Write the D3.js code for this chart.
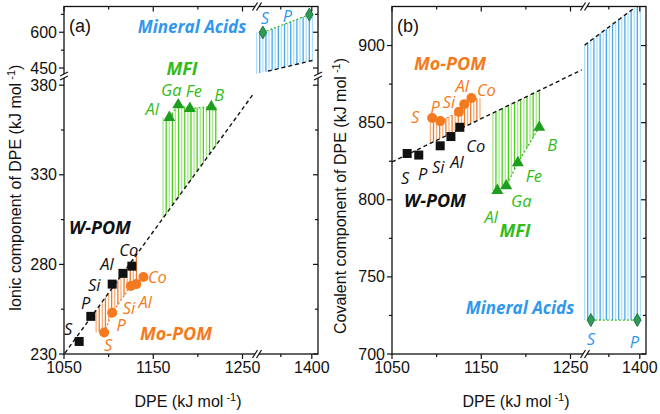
<!DOCTYPE html>
<html><head><meta charset="utf-8">
<script src="https://cdn.jsdelivr.net/npm/d3@7"></script>
<style>body{margin:0;background:#fff}svg{display:block}</style>
</head><body><svg id="c" width="660" height="414"></svg>
<script>
// ---------------- DATA ----------------
const elementsW = ["S","P","Si","Al","Co"];
const dpeW = [1067,1080,1104,1116,1126];
const ionicW = [237,251,269,275,279];
const covalentW = [830,829,835,841,847];

const elementsMo = ["S","P","Si","Al","Co"];
const dpeMo = [1095,1104,1125,1131,1139];
const ionicMo = [242,253,268,269,273];
const covalentMo = [853,851,857,862,866];

const elementsMFI = ["Al","Ga","Fe","B"];
const dpeMFI = [1168,1178,1191,1215];
const ionicMFI = [362,369,367,368];
const covalentMFI = [806,809,824,847];

const elementsMA = ["S","P"];
const dpeMA = [1321,1396];
const ionicMA = [599,674];
const covalentMA = [722,722];

// fitted lines (DPE, value) endpoints per axis segment
const ionicFitLower = [[1051,230.5],[1262,375]];
const ionicFitUpper = [[1329,436.8],[1405,483.9]];
const covalentFitLower = [[1050,824.5],[1262.5,884.2]];
const covalentFitUpper = [[1311,900.3],[1390,924]];

// DPE ranges of the shaded (hatched) regions
const hatchIonic = {Mo:[1086,1134], MFI:[1161,1222], MA:[1311,1401]};
const hatchCovalent = {Mo:[1093,1152], MFI:[1163,1217], MA:[1311,1401]};

// axis ticks
const xTickLabels = [1050,1150,1250,1400];
const xMinorTicks = [1100,1200,1350];
const ionicTickLabels = [230,280,330,380,450,600];
const ionicMinorTicks = [255,305,355,525,675];
const covalentTickLabels = [700,750,800,850,900];
const covalentMinorTicks = [725,775,825,875];

// ---------------- DRAW ----------------
const svg = d3.select("#c");
const FONT = "'Liberation Sans', Arial, sans-serif";
const LFONT = "'Open Sans', 'Noto Sans', sans-serif";
const C = {
  W:"#111111", Mo:"#f47a20", MFI:"#1e9e1e", MFIlab:"#33bb1a", MA:"#2e9a56", MAlab:"#2f97ee",
  hMo:["#f8b07a","#f07a2a"], hMFI:["#a8ea8a","#4fcc22"], hMA:["#ade0f8","#46a6ee"]
};

function interp(xs, ys, x){
  if (x <= xs[0]) return ys[0];
  if (x >= xs[xs.length-1]) return ys[ys.length-1];
  for (let i=0;i<xs.length-1;i++){
    if (x>=xs[i] && x<=xs[i+1]) return ys[i] + (ys[i+1]-ys[i])*(x-xs[i])/(xs[i+1]-xs[i]);
  }
}
function lin(seg, x){
  const [[x0,y0],[x1,y1]] = seg;
  return y0 + (y1-y0)*(x-x0)/(x1-x0);
}

function panel(o){
  const L=o.left, R=o.left+254, T=6.5, B=354;
  const x = d3.scaleLinear().domain([1050,1264,1310,1410]).range([L, L+191, L+192, R]);
  const y = d3.scaleLinear().domain(o.yDomain).range(o.yRange);
  const g = svg.append("g");
  const clipId = "clip"+o.id;
  g.append("clipPath").attr("id",clipId).append("rect").attr("x",L).attr("y",T).attr("width",R-L).attr("height",B-T);
  const pg = g.append("g").attr("clip-path",`url(#${clipId})`);

  const fitAt = d => d < 1290 ? lin(o.fitLower,d) : lin(o.fitUpper,d);

  // hatches
  const series = {
    Mo:{dpe:dpeMo, v:o.vMo}, MFI:{dpe:dpeMFI, v:o.vMFI}, MA:{dpe:dpeMA, v:o.vMA}
  };
  ["Mo","MFI","MA"].forEach(k=>{
    const s = series[k], rng = o.hatch[k], cols = C["h"+k];
    const p0 = x(rng[0]), p1 = x(rng[1]);
    const lines = d3.range(p0, p1+0.01, 3.1).map((px,i)=>{
      const d = x.invert(px);
      return {px, i, y1: y(interp(s.dpe, s.v, d)), y2: y(fitAt(d))};
    });
    pg.append("g").selectAll("line").data(lines).join("line")
      .attr("x1",d=>d.px).attr("x2",d=>d.px).attr("y1",d=>d.y1).attr("y2",d=>d.y2)
      .attr("stroke",d=>cols[d.i%2]).attr("stroke-width",1.3);
  });

  // fit dashed lines
  [o.fitLower, o.fitUpper].forEach(seg=>{
    pg.append("line").attr("x1",x(seg[0][0])).attr("y1",y(seg[0][1]))
      .attr("x2",x(seg[1][0])).attr("y2",y(seg[1][1]))
      .attr("stroke","#111").attr("stroke-width",1.4).attr("stroke-dasharray","4,3");
  });

  // dotted connectors
  const conn = (dpe, v, col)=> pg.append("path")
      .attr("d", d3.line().x(d=>x(d[0])).y(d=>y(d[1]))(dpe.map((d,i)=>[d,v[i]])))
      .attr("fill","none").attr("stroke",col).attr("stroke-width",1.2).attr("stroke-dasharray","2,2");
  conn(dpeMo, o.vMo, C.Mo);
  conn(dpeMFI, o.vMFI, "#33bb1a");
  conn(dpeMA, o.vMA, "#33bb1a");

  // markers
  pg.append("g").selectAll("rect").data(dpeW.map((d,i)=>[d,o.vW[i]])).join("rect")
    .attr("x",d=>x(d[0])-4.5).attr("y",d=>y(d[1])-4.5).attr("width",9).attr("height",9).attr("fill",C.W);
  pg.append("g").selectAll("circle").data(dpeMo.map((d,i)=>[d,o.vMo[i]])).join("circle")
    .attr("cx",d=>x(d[0])).attr("cy",d=>y(d[1])).attr("r",5).attr("fill",C.Mo);
  const tri = d3.symbol().type(d3.symbolTriangle).size(62);
  pg.append("g").selectAll("path").data(dpeMFI.map((d,i)=>[d,o.vMFI[i]])).join("path")
    .attr("transform",d=>`translate(${x(d[0])},${y(d[1])})`).attr("d",tri).attr("fill",C.MFI);
  const dia = d3.symbol().type(d3.symbolDiamond).size(48);
  pg.append("g").selectAll("path").data(dpeMA.map((d,i)=>[d,o.vMA[i]])).join("path")
    .attr("transform",d=>`translate(${x(d[0])},${y(d[1])})`).attr("d",dia)
    .attr("fill",C.MA).attr("stroke","#1d7a3e").attr("stroke-width",1);

  // element labels
  const lab = (dpe, v, names, offs, col)=> g.append("g").selectAll("text").data(names).join("text")
      .attr("x",(d,i)=>x(dpe[i])+offs[i][0]).attr("y",(d,i)=>y(v[i])+offs[i][1])
      .attr("text-anchor","middle").attr("dominant-baseline","central")
      .attr("font-family",LFONT).attr("font-style","italic").attr("font-size",16.5)
      .attr("fill",col).text(d=>d);
  lab(dpeW, o.vW, elementsW, o.offW, C.W);
  lab(dpeMo, o.vMo, elementsMo, o.offMo, C.Mo);
  lab(dpeMFI, o.vMFI, elementsMFI, o.offMFI, C.MFIlab);
  lab(dpeMA, o.vMA, elementsMA, o.offMA, C.MAlab);

  // group titles
  o.titles.forEach(t=>{
    g.append("text").attr("x",t[1]).attr("y",t[2]).attr("text-anchor","middle").attr("dominant-baseline","central")
      .attr("font-family",LFONT).attr("font-style","italic").attr("font-weight","bold").attr("font-size",t[4]||16)
      .attr("fill",t[3]).text(t[0]);
  });
  g.append("text").attr("x",L+16).attr("y",26).attr("text-anchor","middle").attr("dominant-baseline","central")
    .attr("font-family",FONT).attr("font-size",18).attr("fill","#111").text(o.tag);

  // frame
  g.append("rect").attr("x",L).attr("y",T).attr("width",R-L).attr("height",B-T)
    .attr("fill","none").attr("stroke","#111").attr("stroke-width",1.3);

  // x ticks (bottom outward, top inward)
  const ax = g.append("g").attr("stroke","#111").attr("stroke-width",1.2);
  xTickLabels.forEach(v=>{
    ax.append("line").attr("x1",x(v)).attr("x2",x(v)).attr("y1",B).attr("y2",B+5);
    ax.append("line").attr("x1",x(v)).attr("x2",x(v)).attr("y1",T).attr("y2",T+5);
  });
  xMinorTicks.forEach(v=>{
    ax.append("line").attr("x1",x(v)).attr("x2",x(v)).attr("y1",B).attr("y2",B+3);
    ax.append("line").attr("x1",x(v)).attr("x2",x(v)).attr("y1",T).attr("y2",T+3);
  });
  g.append("g").selectAll("text").data(xTickLabels).join("text")
    .attr("x",d=>x(d)).attr("y",373).attr("text-anchor","middle")
    .attr("font-family",FONT).attr("font-size",16).attr("fill","#111").text(d=>d);
  o.yTicks.forEach(v=>{
    ax.append("line").attr("x1",L-5).attr("x2",L).attr("y1",y(v)).attr("y2",y(v));
    ax.append("line").attr("x1",R-5).attr("x2",R).attr("y1",y(v)).attr("y2",y(v));
  });
  o.yMinor.forEach(v=>{
    ax.append("line").attr("x1",L-3).attr("x2",L).attr("y1",y(v)).attr("y2",y(v));
    ax.append("line").attr("x1",R-3).attr("x2",R).attr("y1",y(v)).attr("y2",y(v));
  });
  g.append("g").selectAll("text").data(o.yTicks).join("text")
    .attr("x",L-7).attr("y",d=>y(d)).attr("text-anchor","end").attr("dominant-baseline","central")
    .attr("font-family",FONT).attr("font-size",16).attr("fill","#111").text(d=>d);

  // x breaks
  const xb = L+193;
  [B,T].forEach(yy=>{
    g.append("rect").attr("x",xb-2).attr("y",yy-2).attr("width",4).attr("height",4).attr("fill","#fff");
    [-2,2].forEach(dx=>g.append("line").attr("x1",xb+dx-2.5).attr("y1",yy+4).attr("x2",xb+dx+2.5).attr("y2",yy-4)
      .attr("stroke","#111").attr("stroke-width",1.2));
  });
  if (o.yBreak){
    const yb = o.yBreak;
    [L,R].forEach(xx=>{
      g.append("rect").attr("x",xx-2).attr("y",yb-2).attr("width",4).attr("height",4).attr("fill","#fff");
      [-2,2].forEach(dy=>g.append("line").attr("x1",xx-4).attr("y1",yb+dy+2).attr("x2",xx+4).attr("y2",yb+dy-2)
        .attr("stroke","#111").attr("stroke-width",1.2));
    });
  }

  // axis titles
  const xt = g.append("text").attr("x",(L+R)/2-3).attr("y",407).attr("text-anchor","middle")
    .attr("font-family",FONT).attr("font-size",16).attr("fill","#111");
  xt.append("tspan").text("DPE (kJ mol");
  xt.append("tspan").attr("dy",-6).attr("font-size",11).text(" -1");
  xt.append("tspan").attr("dy",6).text(")");
  const yt = g.append("text").attr("transform",`translate(${o.ytx},${o.yty}) rotate(-90)`).attr("text-anchor","middle")
    .attr("font-family",FONT).attr("font-size",16).attr("fill","#111");
  yt.append("tspan").text(o.ytitle+" (kJ mol");
  yt.append("tspan").attr("dy",-6).attr("font-size",11).text(" -1");
  yt.append("tspan").attr("dy",6).text(")");
}

panel({
  id:"a", left:64, tag:"(a)",
  yDomain:[230,384,425,712], yRange:[354,78,74,5.5], yBreak:76,
  yTicks:ionicTickLabels, yMinor:ionicMinorTicks,
  vW:ionicW, vMo:ionicMo, vMFI:ionicMFI, vMA:ionicMA,
  fitLower:ionicFitLower, fitUpper:ionicFitUpper, hatch:hatchIonic,
  offW:[[-11,-13],[-5,-14],[-18,0],[-16,-10],[-3,-17]],
  offMo:[[4,12],[9,12],[-2,22],[9,17],[14,0]],
  offMFI:[[-17,-9],[-7,-15],[4,-18],[8,-12]],
  offMA:[[2,-15],[-22,1]],
  titles:[["Mineral Acids",192,26,C.MAlab,17],["MFI",182,68,C.MFIlab,18],["W-POM",100,227,"#111",18],["Mo-POM",176,333,C.Mo,18]],
  ytitle:"Ionic component of DPE", ytx:21, yty:188
});
panel({
  id:"b", left:392, tag:"(b)",
  yDomain:[700,925], yRange:[354,7],
  yTicks:covalentTickLabels, yMinor:covalentMinorTicks,
  vW:covalentW, vMo:covalentMo, vMFI:covalentMFI, vMA:covalentMA,
  fitLower:covalentFitLower, fitUpper:covalentFitUpper, hatch:hatchCovalent,
  offW:[[-2,24],[4,18],[-2,21],[6,25],[16,18]],
  offMo:[[-17,-2],[-5,-15],[-10,-10],[-2,-19],[15,-8]],
  offMFI:[[-6,26],[15,15],[16,13],[13,17]],
  offMA:[[0,18],[-3,21]],
  titles:[["Mineral Acids",520,307,C.MAlab,17],["MFI",515,230,C.MFIlab,18],["W-POM",435,200,"#111",18],["Mo-POM",450,63,C.Mo,18]],
  ytitle:"Covalent component of DPE", ytx:346, yty:196
});
</script></body></html>
